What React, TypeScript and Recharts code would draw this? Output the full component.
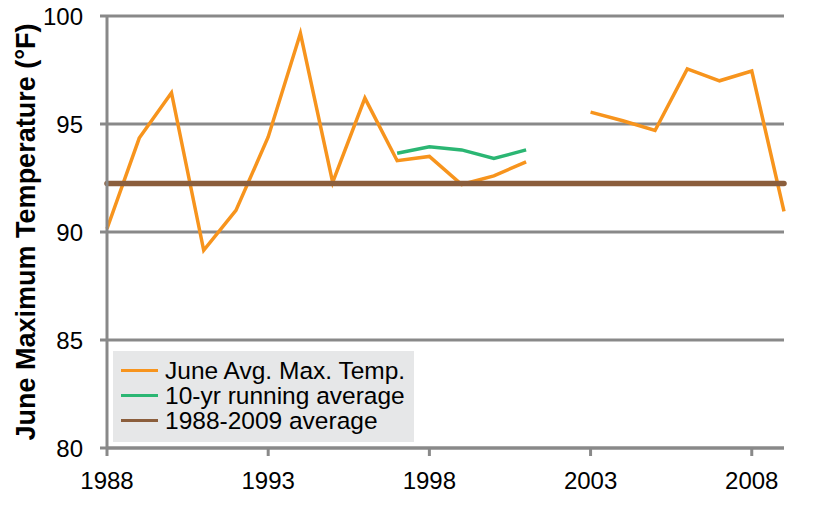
import { CartesianGrid, Label, Line, LineChart, XAxis, YAxis } from "recharts";

const years = [
  1988, 1989, 1990, 1991, 1992, 1993, 1994, 1995, 1996, 1997, 1998, 1999, 2000,
  2001, 2002, 2003, 2004, 2005, 2006, 2007, 2008, 2009,
];

const juneMax = [
  90.15, 94.35, 96.45, 89.15, 91.0, 94.4, 99.2, 92.3, 96.2, 93.3, 93.5, 92.2,
  92.6, 93.25, null, 95.55, 95.15, 94.7, 97.55, 97.0, 97.45, 90.95,
];

const runningAvg = [
  null, null, null, null, null, null, null, null, null, 93.65, 93.95, 93.8,
  93.4, 93.8, null, null, null, null, null, null, null, null,
];

const periodAvg = 92.25;

const xTicks = [1988, 1993, 1998, 2003, 2008];
const yTicks = [80, 85, 90, 95, 100];

const ORANGE = "#F7941D";
const GREEN = "#2BB673";
const BROWN = "#8B5E3C";
const GRID = "#898989";
const FONT = '"Liberation Sans", Arial, sans-serif';

const data = years.map((year, i) => ({
  year,
  temp: juneMax[i],
  running: runningAvg[i],
  avg: periodAvg,
}));

const legendItems = [
  { label: "June Avg. Max. Temp.", color: ORANGE },
  { label: "10-yr running average", color: GREEN },
  { label: "1988-2009 average", color: BROWN },
];

// legend sits inside the plot, so it is laid over the chart instead of taking space from it
function LegendBox() {
  return (
    <div
      style={{
        position: "absolute",
        left: 113,
        top: 351,
        background: "#E6E7E8",
        width: 301,
        height: 91,
        boxSizing: "border-box",
        padding: "7px 0 0 8px",
        fontFamily: FONT,
        fontSize: 24.5,
        color: "#000",
      }}
    >
      {legendItems.map((item) => (
        <div
          key={item.label}
          style={{ display: "flex", alignItems: "center", height: 25, lineHeight: "25px" }}
        >
          <span
            style={{
              display: "inline-block",
              width: 37,
              height: 3,
              background: item.color,
              marginRight: 7,
            }}
          />
          <span>{item.label}</span>
        </div>
      ))}
    </div>
  );
}

export default function App() {
  return (
    <div style={{ position: "absolute", left: 0, top: 0, width: 833, height: 508 }}>
      <LineChart
        width={833}
        height={508}
        data={data}
        margin={{ top: 16, right: 49, bottom: 0, left: 0 }}
        style={{ fontFamily: FONT }}
      >
        <CartesianGrid vertical={false} stroke={GRID} strokeWidth={3} />
        <XAxis
          dataKey="year"
          type="number"
          domain={[1988, 2009]}
          ticks={xTicks}
          height={60}
          tickSize={8}
          tickMargin={16}
          axisLine={{ stroke: GRID, strokeWidth: 3 }}
          tickLine={{ stroke: GRID, strokeWidth: 3 }}
          tick={{ fill: "#000", fontSize: 24 }}
        />
        <YAxis
          domain={[80, 100]}
          ticks={yTicks}
          width={107}
          tickSize={7}
          tickMargin={17}
          axisLine={{ stroke: GRID, strokeWidth: 3 }}
          tickLine={{ stroke: GRID, strokeWidth: 3 }}
          tick={{ fill: "#000", fontSize: 24 }}
        >
          <Label
            value="June Maximum Temperature (°F)"
            angle={-90}
            position="center"
            dx={-28}
            style={{ fontSize: 27, fontWeight: "bold", fill: "#000", textAnchor: "middle" }}
          />
        </YAxis>
        <Line
          dataKey="temp"
          stroke={ORANGE}
          strokeWidth={3.5}
          dot={false}
          activeDot={false}
          connectNulls={false}
          isAnimationActive={false}
        />
        <Line
          dataKey="running"
          stroke={GREEN}
          strokeWidth={3.5}
          dot={false}
          activeDot={false}
          isAnimationActive={false}
        />
        <Line
          dataKey="avg"
          stroke={BROWN}
          strokeWidth={5.5}
          strokeLinecap="round"
          dot={false}
          activeDot={false}
          isAnimationActive={false}
        />
      </LineChart>
      <LegendBox />
    </div>
  );
}
